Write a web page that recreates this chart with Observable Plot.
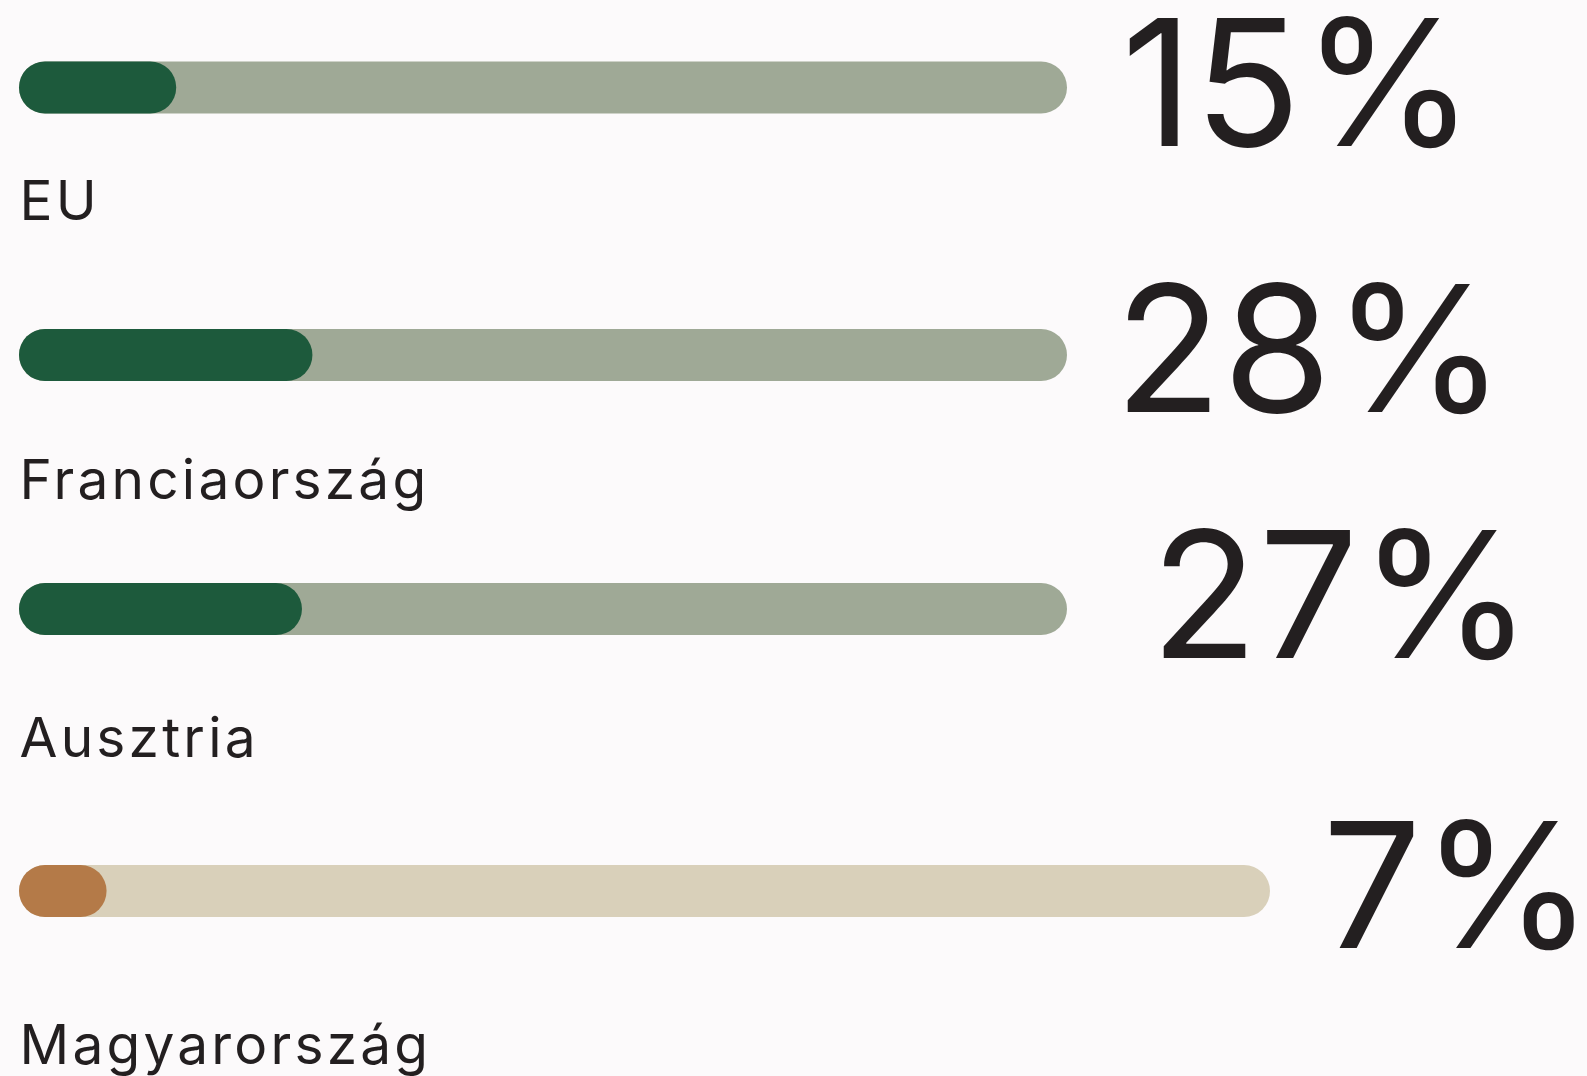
<!DOCTYPE html>
<html>
<head>
<meta charset="utf-8">
<script src="https://cdn.jsdelivr.net/npm/d3@7"></script>
<script src="https://cdn.jsdelivr.net/npm/@observablehq/plot@0.6"></script>
<style>
  html, body { margin: 0; padding: 0; background: #fcfafb; overflow: hidden; }
  #chart { width: 1587px; height: 1076px; overflow: hidden; }
  #chart svg { display: block; overflow: visible; }
  #chart g[font-size="55"] { letter-spacing: 3.2px; }
  #chart g[font-size="176"] { letter-spacing: 1px; }
  #chart g[font-size="175"] { letter-spacing: 0px; }
</style>
</head>
<body>
<div id="chart"></div>
<script>
// Data
const categories = ["EU", "Franciaország", "Ausztria", "Magyarország"];
const values = [15, 28, 27, 7];
const fillColors = ["#1d5a3c", "#1d5a3c", "#1d5a3c", "#b47a48"];
const trackColors = ["#9fa996", "#9fa996", "#9fa996", "#d9d0ba"];

// Layout per row (presentation only)
const layout = [
  {height: 250, marginTop: 61.5, marginBottom: 136.5, marginRight: 520, labelDy: 132, pctDx: 54, pctDy: 58, pctSize: 176},
  {height: 270, marginTop: 79, marginBottom: 139, marginRight: 520, labelDy: 143, pctDx: 47, pctDy: 56, pctSize: 176},
  {height: 250, marginTop: 63, marginBottom: 135, marginRight: 520, labelDy: 147, pctDx: 83, pctDy: 48, pctSize: 176},
  {height: 306, marginTop: 95, marginBottom: 159, marginRight: 317, labelDy: 172, pctDx: 52, pctDy: 56, pctSize: 175}
];

const container = document.getElementById("chart");
categories.forEach((name, i) => {
  const row = [{name, value: values[i]}];
  const L = layout[i];
  const chart = Plot.plot({
    width: 1587,
    height: L.height,
    marginLeft: 19,
    marginRight: L.marginRight,
    marginTop: L.marginTop,
    marginBottom: L.marginBottom,
    style: {background: "transparent", overflow: "visible"},
    x: {domain: [0, 100], axis: null},
    marks: [
      Plot.barX(row, {x1: () => 0, x2: () => 100, fill: trackColors[i], rx: 26}),
      Plot.barX(row, {x1: () => 0, x2: "value", fill: fillColors[i], rx: 26}),
      Plot.text(row, {
        x: () => 0, text: "name", textAnchor: "start", lineAnchor: "bottom",
        dy: L.labelDy, fill: "#231f20",
        fontFamily: "Inter", fontSize: 55
      }),
      Plot.text(row, {
        x: () => 100, text: d => d.value + "%", textAnchor: "start", lineAnchor: "bottom",
        dx: L.pctDx, dy: L.pctDy, fill: "#231f20",
        fontFamily: "Inter", fontSize: L.pctSize
      })
    ]
  });
  container.appendChild(chart);
});
</script>
</body>
</html>
